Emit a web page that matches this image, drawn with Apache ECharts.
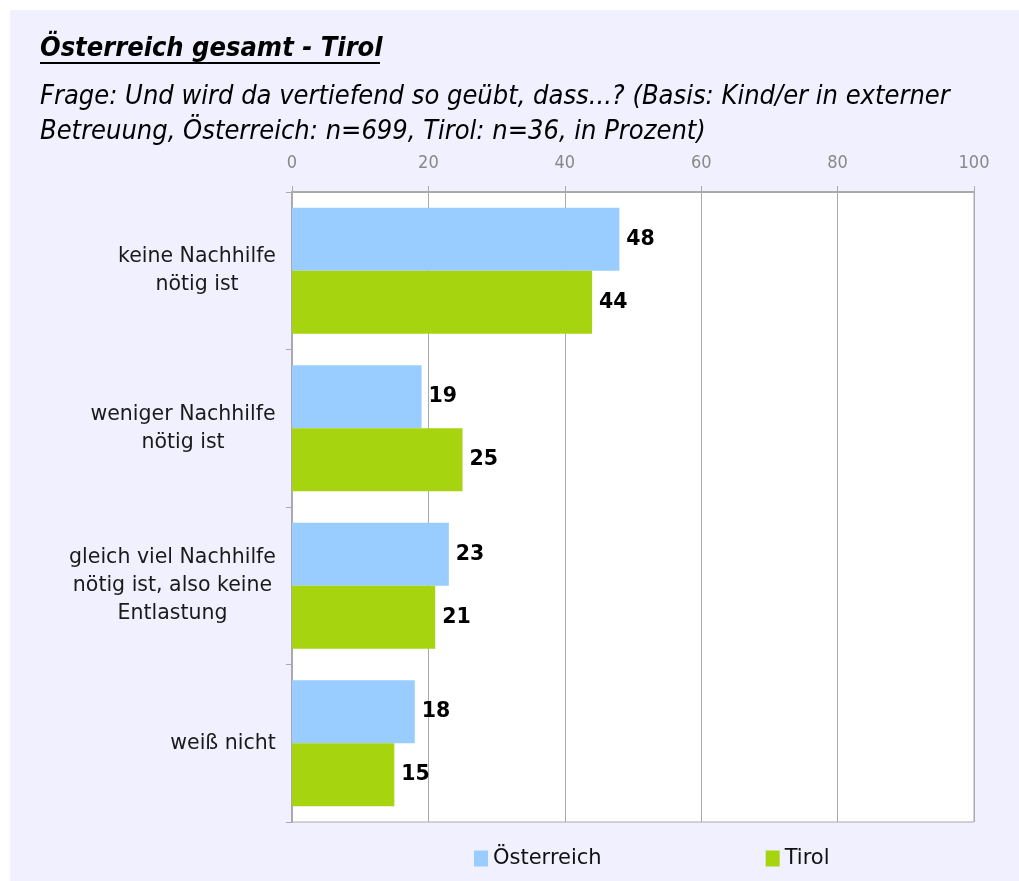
<!DOCTYPE html>
<html><head><meta charset="utf-8">
<script src="https://cdn.jsdelivr.net/npm/echarts@6/dist/echarts.min.js"></script>
<style>html,body{margin:0;padding:0;background:#fff;}#c{position:absolute;left:10px;top:10px;width:1009px;height:871px;}</style>
</head><body><div id="c"></div>
<script>
var categories = ['keine Nachhilfe\nnötig ist', 'weniger Nachhilfe\nnötig ist', 'gleich viel Nachhilfe\nnötig ist, also keine\nEntlastung', 'weiß nicht'];
var seriesNames = ['Österreich', 'Tirol'];
var oesterreich = [48, 19, 23, 18];
var tirol = [44, 25, 21, 15];
var xTicks = [0, 20, 40, 60, 80, 100];

var catFontSize = 20.5;
var cv = document.createElement('canvas').getContext('2d');
cv.font = catFontSize + 'px "DejaVu Sans"';
var rich = {};
categories.forEach(function (c, i) {
  var w = 0;
  c.split('\n').forEach(function (l) { w = Math.max(w, cv.measureText(l).width); });
  rich['r' + i] = { width: Math.ceil(w), align: 'center', fontFamily: 'DejaVu Sans', fontSize: catFontSize, color: '#1a1a1a', lineHeight: 28 };
});

var narrow = '"Liberation Sans Narrow","DejaVu Sans Condensed","Open Sans",sans-serif';
var chart = echarts.init(document.getElementById('c'));
var barLabel = { show: true, position: 'right', distance: 7, color: '#000', fontFamily: 'DejaVu Sans', fontWeight: 'bold', fontSize: 20.5 };
chart.setOption({
  backgroundColor: '#F0F0FF',
  animation: false,
  title: [{
    text: 'Österreich gesamt - Tirol', left: 25, top: 20,
    textStyle: { fontFamily: narrow, fontStyle: 'italic', fontWeight: 'bold', fontSize: 27, color: '#000' }
  }, {
    text: 'Frage: Und wird da vertiefend so geübt, dass...? (Basis: Kind/er in externer\nBetreuung, Österreich: n=699, Tirol: n=36, in Prozent)', left: 25, top: 64,
    textStyle: { fontFamily: narrow, fontStyle: 'italic', fontWeight: 'normal', fontSize: 27, lineHeight: 35, color: '#000' }
  }],
  graphic: [{ type: 'rect', left: 30, top: 52, shape: { width: 340, height: 2 }, style: { fill: '#000' } }],
  legend: {
    top: 833, left: 459, itemGap: 164, itemWidth: 14, itemHeight: 16, icon: 'rect',
    textStyle: { fontFamily: 'DejaVu Sans', fontSize: 21, color: '#111' },
    data: seriesNames
  },
  grid: { left: 282, top: 182, width: 682, height: 630, show: true, backgroundColor: '#fff', borderColor: '#aaa', borderWidth: 1 },
  xAxis: {
    type: 'value', position: 'top', min: 0, max: 100, interval: 20,
    axisLine: { show: true, lineStyle: { color: '#aaa', width: 2 } },
    axisTick: { show: true, length: 6, lineStyle: { color: '#aaa' } },
    splitLine: { show: true, lineStyle: { color: '#aaa', width: 1 } },
    axisLabel: { margin: 20, color: '#888', fontFamily: narrow, fontSize: 18,
      formatter: function (v) { return xTicks.indexOf(v) >= 0 ? String(v) : ''; } }
  },
  yAxis: {
    type: 'category', inverse: true, data: categories,
    axisLine: { show: true, lineStyle: { color: '#aaa', width: 2 } },
    axisTick: { show: true, length: 6, lineStyle: { color: '#aaa' } },
    axisLabel: { margin: 16, align: 'right', rich: rich,
      formatter: function (v, i) { return v.split('\n').map(function (l) { return '{r' + i + '|' + l + '}'; }).join('\n'); } }
  },
  series: [
    { name: seriesNames[0], type: 'bar', data: oesterreich, barGap: '0%', barCategoryGap: '20%', itemStyle: { color: '#99CCFF' }, label: barLabel },
    { name: seriesNames[1], type: 'bar', data: tirol, barGap: '0%', barCategoryGap: '20%', itemStyle: { color: '#A6D40F' }, label: barLabel }
  ]
});
</script></body></html>
